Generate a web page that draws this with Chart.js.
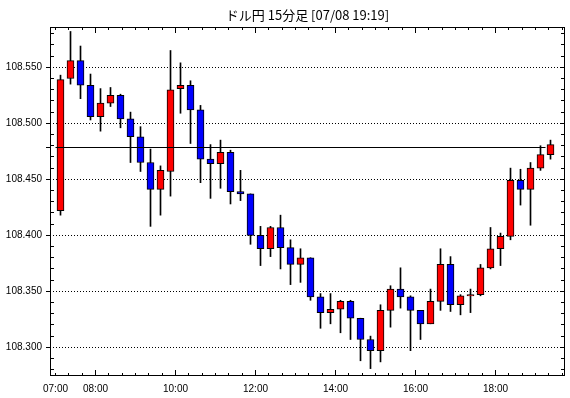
<!DOCTYPE html>
<html>
<head>
<meta charset="utf-8">
<script src="https://cdn.jsdelivr.net/npm/chart.js@4.4.1/dist/chart.umd.min.js"></script>
<style>
  html, body { margin: 0; padding: 0; background: #fff; }
  #wrap { width: 570px; height: 398px; }
</style>
</head>
<body>
<div id="wrap"><canvas id="c"></canvas></div>
<script>
/* ドル円 15分足 — ローソク足 */
const times = [
  '07:00','07:15','07:30','07:45','08:00','08:15','08:30','08:45','09:00','09:15',
  '09:30','09:45','10:00','10:15','10:30','10:45','11:00','11:15','11:30','11:45',
  '12:00','12:15','12:30','12:45','13:00','13:15','13:30','13:45','14:00','14:15',
  '14:30','14:45','15:00','15:15','15:30','15:45','16:00','16:15','16:30','16:45',
  '17:00','17:15','17:30','17:45','18:00','18:15','18:30','18:45','19:00','19:15'
];
const opens = [
  108.422,108.540,108.556,108.534,108.506,108.518,108.525,108.504,108.488,108.465,
  108.441,108.457,108.531,108.534,108.512,108.468,108.464,108.474,108.439,108.437,
  108.400,108.388,108.407,108.389,108.374,108.380,108.345,108.331,108.334,108.341,
  108.326,108.307,108.297,108.333,108.352,108.345,108.333,108.321,108.341,108.374,
  108.338,108.346,108.347,108.371,108.388,108.399,108.449,108.441,108.460,108.472
];
const highs = [
  108.543,108.582,108.569,108.544,108.531,108.532,108.526,108.510,108.497,108.477,
  108.462,108.565,108.554,108.538,108.516,108.481,108.485,108.476,108.458,108.437,
  108.408,108.408,108.418,108.396,108.388,108.380,108.348,108.348,108.342,108.342,
  108.326,108.310,108.338,108.355,108.371,108.346,108.333,108.352,108.388,108.381,
  108.347,108.352,108.374,108.407,108.402,108.460,108.459,108.465,108.480,108.485
];
const lows = [
  108.418,108.535,108.522,108.503,108.493,108.515,108.496,108.465,108.457,108.408,
  108.418,108.435,108.509,108.482,108.447,108.433,108.442,108.428,108.431,108.392,
  108.373,108.381,108.370,108.356,108.358,108.342,108.317,108.321,108.313,108.307,
  108.288,108.281,108.287,108.318,108.335,108.297,108.307,108.321,108.333,108.332,
  108.329,108.331,108.346,108.370,108.373,108.396,108.427,108.409,108.458,108.468
];
const closes = [
  108.539,108.556,108.534,108.506,108.518,108.525,108.504,108.488,108.465,108.441,
  108.458,108.530,108.534,108.512,108.468,108.464,108.474,108.439,108.437,108.400,
  108.388,108.407,108.389,108.374,108.380,108.345,108.331,108.334,108.341,108.326,
  108.307,108.297,108.333,108.352,108.345,108.333,108.321,108.341,108.374,108.338,
  108.346,108.347,108.371,108.388,108.399,108.449,108.441,108.460,108.472,108.481
];
const xTickLabels = ['07:00','08:00','10:00','12:00','14:00','16:00','18:00'];
const yTickLabels = ['108.300','108.350','108.400','108.450','108.500','108.550'];
const lastPrice = 108.478;

// minutes from 07:00
function toMin(t) { const [h, m] = t.split(':').map(Number); return (h - 7) * 60 + m; }
const xs = times.map(t => toMin(t) + 7.5);
const upColor = '#ff0000', downColor = '#0000ff';

const frame = {
  id: 'frame',
  afterDatasetsDraw(chart) {
    const { ctx, chartArea: a, scales: { x, y } } = chart;
    ctx.save();
    ctx.strokeStyle = '#000';
    ctx.lineWidth = 1;
    // current price line
    const py = Math.floor(y.getPixelForValue(lastPrice)) + 0.5;
    ctx.beginPath();
    ctx.moveTo(x.getPixelForValue(0), py);
    ctx.lineTo(x.getPixelForValue(735), py);
    ctx.stroke();
    // frame
    ctx.strokeRect(a.left + 0.5, a.top + 0.5, a.right - a.left - 1, a.bottom - a.top - 1);
    ctx.beginPath();
    // x ticks every 20 min, inward
    for (let m = 0; m <= 760; m += 20) {
      const px = Math.floor(x.getPixelForValue(m)) + 0.5;
      const len = (m % 120 === 60) ? 6 : 3;
      ctx.moveTo(px, a.bottom); ctx.lineTo(px, a.bottom - len);
      ctx.moveTo(px, a.top); ctx.lineTo(px, a.top + len);
    }
    // y ticks every 0.01
    for (let k = Math.ceil(y.min * 100); k <= Math.floor(y.max * 100); k++) {
      const pyy = Math.floor(y.getPixelForValue(k / 100)) + 0.5;
      const major = k % 5 === 0;
      if (major) {
        ctx.moveTo(a.left - 4, pyy); ctx.lineTo(a.left + 1, pyy);
        ctx.moveTo(a.right, pyy); ctx.lineTo(a.right - 5, pyy);
      } else {
        ctx.moveTo(a.left, pyy); ctx.lineTo(a.left + 4, pyy);
        ctx.moveTo(a.right, pyy); ctx.lineTo(a.right - 4, pyy);
      }
    }
    ctx.moveTo(a.left - 4, py); ctx.lineTo(a.left, py);
    ctx.stroke();
    ctx.restore();
  }
};

new Chart(document.getElementById('c'), {
  type: 'bar',
  data: {
    datasets: [
      {
        label: 'body',
        order: 0,
        data: xs.map((x, i) => ({ x, y: [opens[i], closes[i]] })),
        backgroundColor: closes.map((c, i) => c > opens[i] ? upColor : downColor),
        borderColor: '#000',
        borderWidth: 1,
        borderSkipped: false,
        barThickness: 7,
        grouped: false,
      },
      {
        label: 'wick',
        order: 1,
        data: xs.map((x, i) => ({ x, y: [lows[i], highs[i]] })),
        backgroundColor: '#000',
        borderWidth: 0,
        barThickness: 1,
        grouped: false,
      },
    ],
  },
  options: {
    responsive: true, maintainAspectRatio: false,
    animation: false,
    layout: { padding: { left: 0, right: 5, top: 0, bottom: 0 } },
    plugins: {
      legend: { display: false },
      tooltip: { enabled: false },
      title: {
        display: true,
        fullSize: false,
        text: 'ドル円 15分足 [07/08 19:19]',
        color: '#000',
        font: { family: "'Noto Sans CJK JP'", size: 13, weight: 'normal', lineHeight: 1.2 },
        padding: { top: 7.5, bottom: 3.9 },
      },
    },
    scales: {
      x: {
        type: 'linear',
        offset: false,
        min: -8.25, max: 764.25,
        grid: { display: false, drawTicks: false },
        border: { display: false },
        afterBuildTicks: s => { s.ticks = xTickLabels.map(t => ({ value: toMin(t) })); },
        afterFit: s => { s.height = 22; },
        ticks: {
          autoSkip: false, maxRotation: 0, padding: 7, color: '#000',
          font: { family: "'Liberation Sans'", size: 10 },
          callback: v => xTickLabels.find(t => toMin(t) === v) || '',
        },
      },
      y: {
        min: 108.2744, max: 108.586,
        grid: { color: '#000', lineWidth: 1, drawTicks: false },
        border: { display: false, dash: [1, 2] },
        afterBuildTicks: s => { s.ticks = yTickLabels.map(t => ({ value: parseFloat(t) })); },
        afterFit: s => { s.width = 50; },
        ticks: {
          padding: 8, color: '#000',
          font: { family: "'Liberation Sans'", size: 10 },
          callback: v => yTickLabels.find(t => Math.abs(parseFloat(t) - v) < 1e-6) || '',
        },
      },
    },
  },
  plugins: [frame],
});
</script>
</body>
</html>
